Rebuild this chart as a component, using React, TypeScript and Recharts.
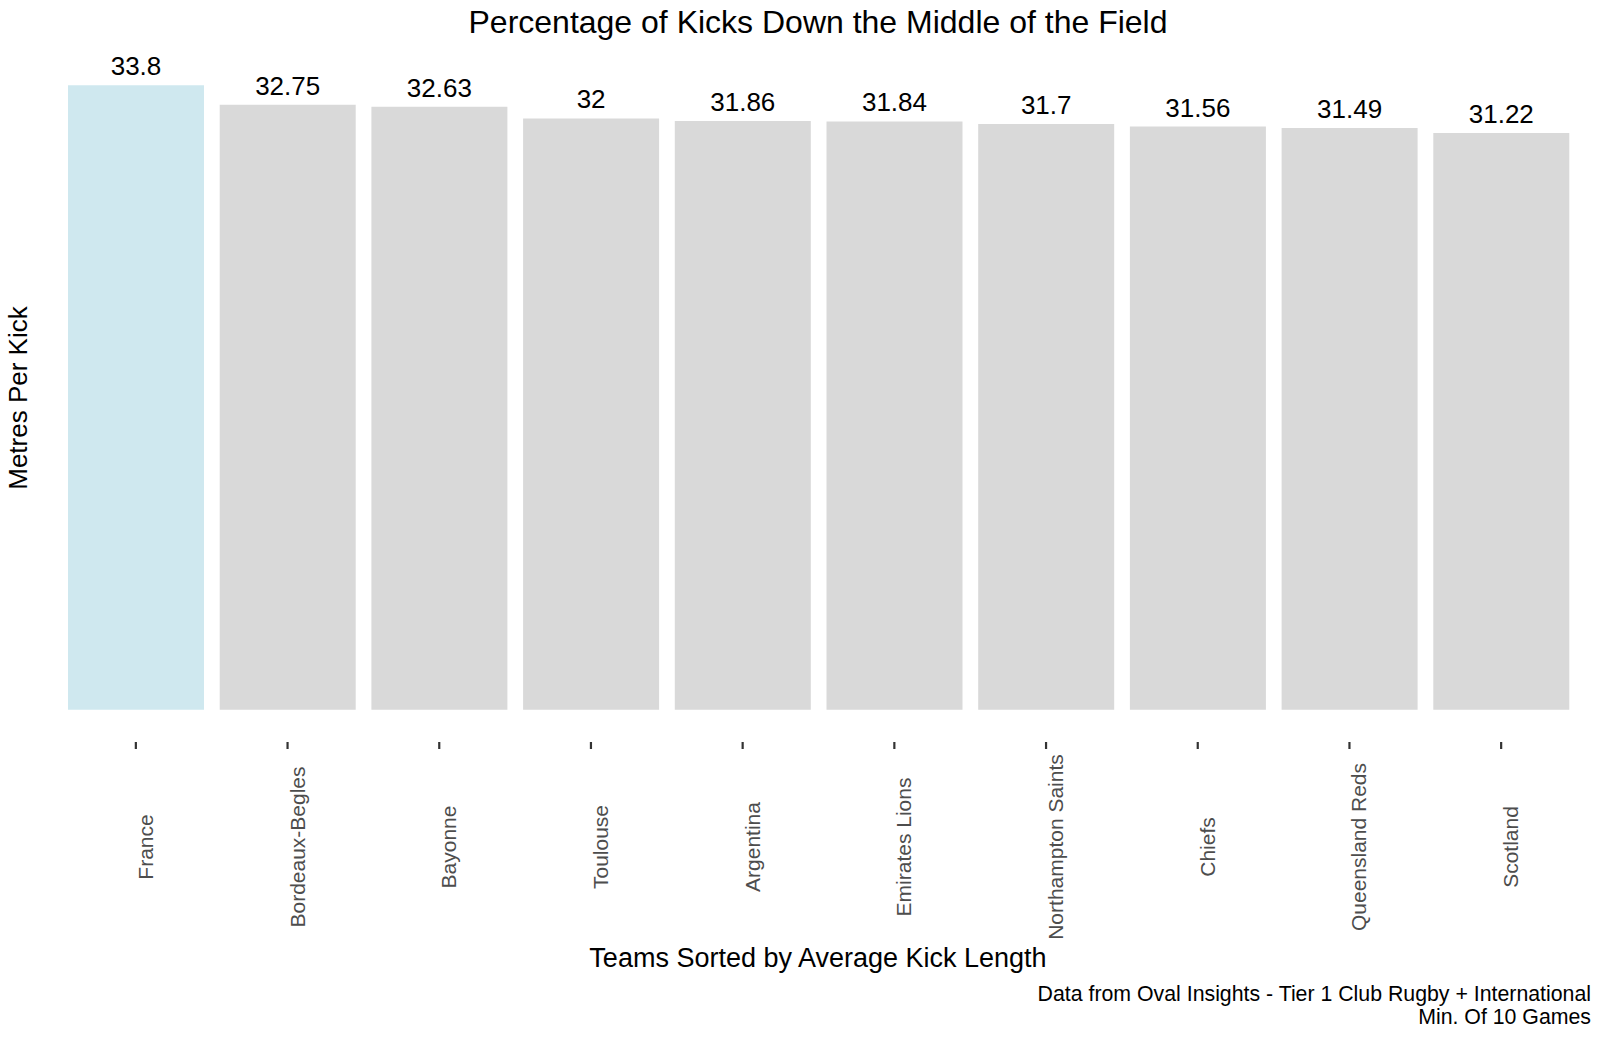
import { Bar, BarChart, Cell, LabelList, XAxis, YAxis } from 'recharts'

const teams = [
  'France',
  'Bordeaux-Begles',
  'Bayonne',
  'Toulouse',
  'Argentina',
  'Emirates Lions',
  'Northampton Saints',
  'Chiefs',
  'Queensland Reds',
  'Scotland',
]
const metresPerKick = [33.8, 32.75, 32.63, 32, 31.86, 31.84, 31.7, 31.56, 31.49, 31.22]
const highlightTeam = 'France'

const FONT = '"Liberation Sans", Arial, Helvetica, sans-serif'

const chartData = teams.map((team, i) => ({ team, value: metresPerKick[i] }))

// ggplot-style 5% expansion on the value axis
const maxVal = Math.max(...metresPerKick)
const yDomain = [-maxVal * 0.05, maxVal * 1.05]

function TeamTick(props: any) {
  const { x, payload } = props
  return (
    <g>
      <line x1={x} x2={x} y1={742} y2={749} stroke="#333333" strokeWidth={2.2} />
      <text
        transform={`translate(${x + 17}, 847) rotate(-90)`}
        textAnchor="middle"
        fontSize={21}
        fill="#4d4d4d"
        fontFamily={FONT}
      >
        {payload.value}
      </text>
    </g>
  )
}

export default function App() {
  return (
    <div style={{ position: 'absolute', left: 0, top: 0, width: 1600, height: 1038, background: '#fff' }}>
      <BarChart
        width={1600}
        height={1038}
        data={chartData}
        margin={{ top: 54, right: 23, left: 60, bottom: 177 }}
      >
        <XAxis
          dataKey="team"
          type="category"
          height={120}
          axisLine={false}
          tickLine={false}
          interval={0}
          tick={<TeamTick />}
        />
        <YAxis type="number" domain={yDomain} hide />
        <Bar dataKey="value" barSize={136} isAnimationActive={false}>
          {chartData.map((d) => (
            <Cell key={d.team} fill={d.team === highlightTeam ? '#cfe8ef' : '#d9d9d9'} />
          ))}
          <LabelList
            dataKey="value"
            position="top"
            offset={10}
            fontSize={26}
            fill="#000"
            fontFamily={FONT}
          />
        </Bar>
      </BarChart>
      <svg
        width={1600}
        height={1038}
        style={{ position: 'absolute', left: 0, top: 0, pointerEvents: 'none' }}
        fontFamily={FONT}
      >
        <text x={818} y={33} textAnchor="middle" fontSize={32} fill="#000">
          Percentage of Kicks Down the Middle of the Field
        </text>
        <text transform="translate(27, 398) rotate(-90)" textAnchor="middle" fontSize={26} fill="#000">
          Metres Per Kick
        </text>
        <text x={818} y={967} textAnchor="middle" fontSize={27} fill="#000">
          Teams Sorted by Average Kick Length
        </text>
        <text x={1591} y={1001} textAnchor="end" fontSize={21.3} fill="#000">
          Data from Oval Insights - Tier 1 Club Rugby + International
        </text>
        <text x={1591} y={1024} textAnchor="end" fontSize={21.3} fill="#000">
          Min. Of 10 Games
        </text>
      </svg>
    </div>
  )
}
